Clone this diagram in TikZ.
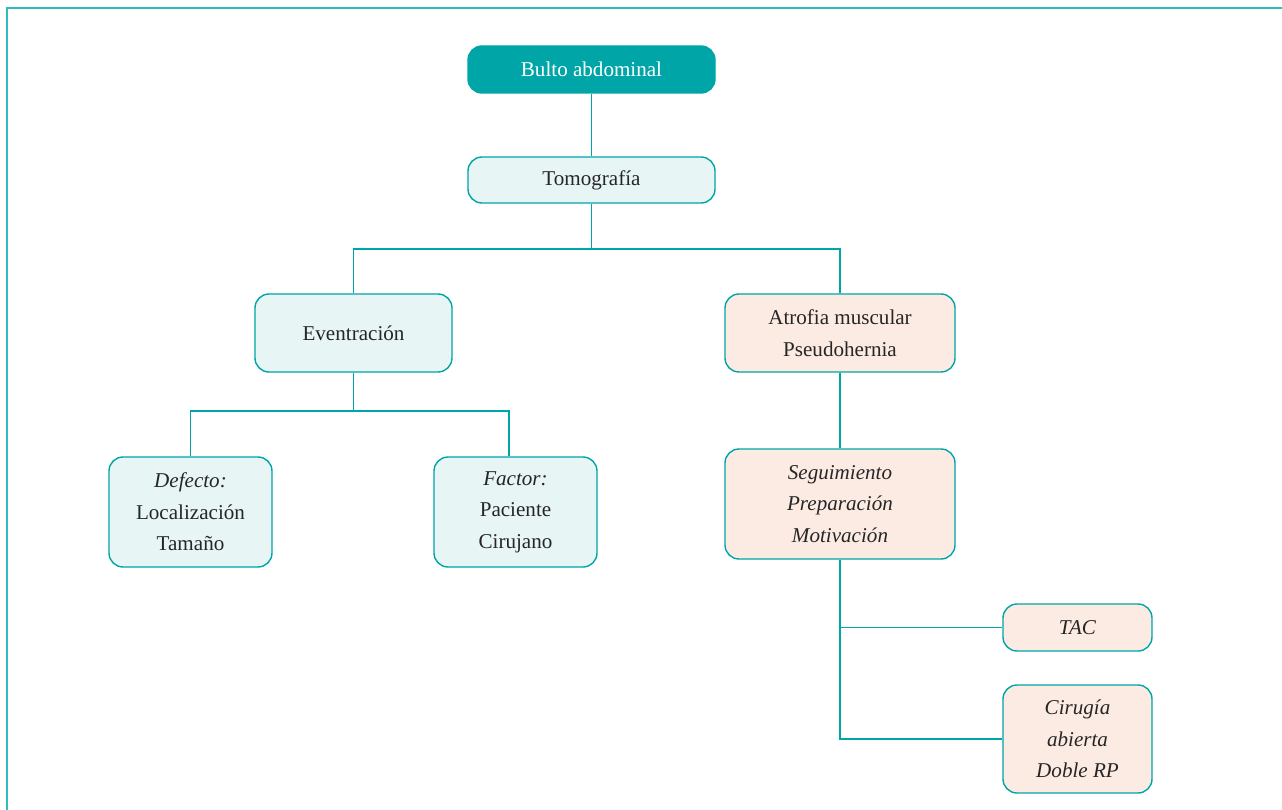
\documentclass[tikz,border=0pt]{standalone}
\usepackage{fontspec}
\setmainfont{Liberation Serif}
\usetikzlibrary{positioning, calc}
\definecolor{teal1}{HTML}{00A5A8}
\definecolor{frameteal}{HTML}{30BCC0}
\definecolor{lightfill}{HTML}{E8F5F5}
\definecolor{peachfill}{HTML}{FCEBE3}
\tikzset{
  box/.style={draw=teal1, rectangle, rounded corners=0.28cm, align=center, inner sep=1mm, line width=0.8pt, font=\fontsize{12}{18}\selectfont, text=black!85},
  headbox/.style={box, fill=teal1, text=white},
  bluebox/.style={box, fill=lightfill},
  peachbox/.style={box, fill=peachfill},
  link/.style={draw=teal1, line width=0.6pt}
}

\begin{document}
\begin{tikzpicture}

\useasboundingbox (0,0) rectangle (25.64,-16.2);
\draw[frameteal, line width=1.6pt] (0.14,-16.2) -- (0.14,-0.16) -- (25.64,-0.16);

\node[headbox, minimum width=4.94cm, minimum height=0.94cm] (bulto) at (11.83,-1.39) {Bulto abdominal};
\node[bluebox, minimum width=4.94cm, minimum height=0.92cm] (tomo) at (11.83,-3.60) {Tomografía};

\node[bluebox, minimum width=3.94cm, minimum height=1.56cm] (event) at (7.07,-6.66) {Eventración};
\node[peachbox, minimum width=4.60cm, minimum height=1.56cm] (atrofia) at (16.80,-6.66) {Atrofia muscular\\Pseudohernia};

\node[bluebox, minimum width=3.26cm, minimum height=2.20cm] (defecto) at (3.81,-10.24) {\textit{Defecto:}\\Localización\\Tamaño};
\node[bluebox, minimum width=3.26cm, minimum height=2.20cm] (factor) at (10.31,-10.24) {\textit{Factor:}\\Paciente\\Cirujano};
\node[peachbox, minimum width=4.60cm, minimum height=2.20cm] (segui) at (16.80,-10.08) {\textit{Seguimiento}\\\textit{Preparación}\\\textit{Motivación}};

\node[peachbox, minimum width=2.98cm, minimum height=0.94cm] (tac) at (21.55,-12.55) {\textit{TAC}};
\node[peachbox, minimum width=2.98cm, minimum height=2.16cm] (cirugia) at (21.55,-14.78) {\textit{Cirugía}\\\textit{abierta}\\\textit{Doble RP}};

% branch points
\coordinate (split1) at (11.83,-4.98);
\coordinate (split2) at (7.07,-8.22);
\coordinate (factortop) at ($(factor.north)+(-0.13,0)$);

\draw[link] (bulto.south) -- (tomo.north);
\draw[link] (tomo.south) -- (split1);
\draw[link] (split1) -| (event.north);
\draw[link] (split1) -| (atrofia.north);
\draw[link] (event.south) -- (split2);
\draw[link] (split2) -| (defecto.north);
\draw[link] (split2) -| (factortop);
\draw[link] (atrofia.south) -- (segui.north);
\draw[link] (segui.south) |- (cirugia.west);
\draw[link] (segui.south |- tac.west) -- (tac.west);

\end{tikzpicture}
\end{document}
